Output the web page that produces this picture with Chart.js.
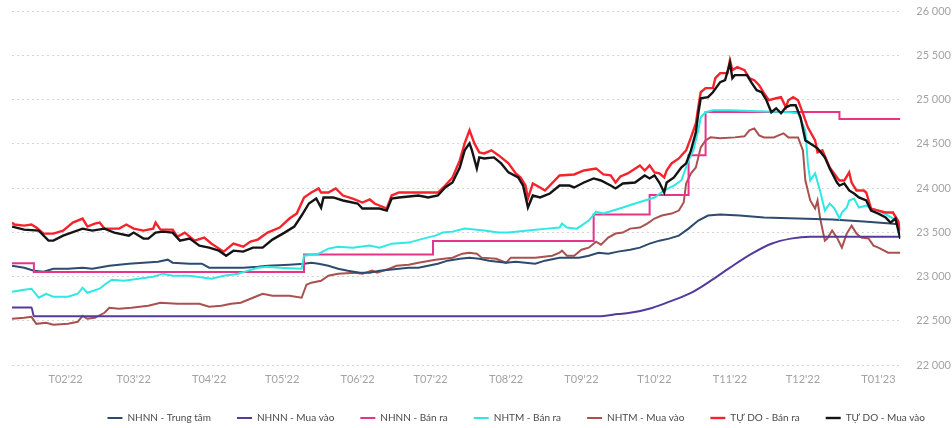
<!DOCTYPE html>
<html>
<head>
<meta charset="utf-8">
<script src="https://cdn.jsdelivr.net/npm/chart.js@4.4.1/dist/chart.umd.min.js"></script>
<style>
  html, body { margin: 0; padding: 0; background: #fff; }
  #chart { display: block; }
</style>
</head>
<body>
<canvas id="chart" width="952" height="428"></canvas>
<script>
// Trục ngang: ngày tính từ 01/01/2022
const monthTicks = [31, 59, 90, 120, 151, 181, 212, 243, 273, 304, 334, 365];
const monthLabels = ["T02'22", "T03'22", "T04'22", "T05'22", "T06'22", "T07'22", "T08'22", "T09'22", "T10'22", "T11'22", "T12'22", "T01'23"];

const seriesNames = ['NHNN - Trung tâm', 'NHNN - Mua vào', 'NHNN - Bán ra', 'NHTM - Bán ra', 'NHTM - Mua vào', 'TỰ DO - Bán ra', 'TỰ DO - Mua vào'];

// [ngày, VND/USD]
const nhnnTrungTam = [
  [9, 23122], [14, 23099], [18, 23066], [22, 23054], [26, 23088], [32, 23088], [38, 23099], [42, 23088],
  [49, 23122], [57, 23145], [63, 23156], [69, 23167], [73, 23190], [75, 23156], [82, 23145], [87, 23145],
  [90, 23099], [98, 23099], [104, 23099], [110, 23111], [114, 23122], [123, 23134], [129, 23145], [132, 23156],
  [135, 23145], [139, 23122], [143, 23088], [147, 23066], [152, 23043], [156, 23043], [160, 23066], [164, 23077],
  [168, 23088], [172, 23099], [176, 23099], [180, 23122], [184, 23145], [188, 23179], [193, 23201], [197, 23213],
  [201, 23201], [205, 23179], [212, 23156], [216, 23167], [220, 23156], [224, 23145], [228, 23179], [234, 23213],
  [242, 23213], [246, 23235], [250, 23269], [254, 23258], [258, 23281], [263, 23303], [267, 23326], [271, 23371],
  [275, 23405], [279, 23428], [283, 23462], [287, 23541], [291, 23632], [295, 23689], [300, 23700], [308, 23689],
  [318, 23666], [332, 23655], [346, 23643], [359, 23621], [370, 23598], [374, 23587]
];

const nhnnMuaVao = [
  [9, 22650], [17, 22650], [18, 22550], [250, 22550], [258, 22575], [263, 22590], [272, 22645], [280, 22725],
  [288, 22815], [296, 22950], [304, 23100], [313, 23258], [321, 23370], [329, 23428], [337, 23450], [374, 23450]
];

const nhnnBanRa = [
  [9, 23150], [18, 23050], [129, 23250], [182, 23400], [248, 23700], [271, 23920], [287, 24370], [294, 24860],
  [349, 24780], [374, 24780]
];

const nhtmBanRa = [
  [9, 22828], [14, 22850], [17, 22862], [20, 22760], [23, 22805], [26, 22771], [32, 22771], [36, 22805],
  [38, 22873], [40, 22816], [45, 22862], [47, 22907], [50, 22964], [55, 22952], [61, 22975], [67, 22998],
  [71, 23032], [75, 23009], [82, 23009], [88, 22986], [91, 22975], [96, 23009], [102, 23032], [106, 23066],
  [110, 23099], [114, 23111], [119, 23099], [128, 23088], [129, 23235], [135, 23258], [139, 23315], [143, 23337],
  [149, 23326], [156, 23349], [160, 23326], [165, 23371], [172, 23383], [178, 23428], [183, 23462], [186, 23496],
  [190, 23507], [195, 23541], [203, 23519], [209, 23496], [213, 23496], [221, 23519], [229, 23541], [234, 23553],
  [235, 23598], [237, 23553], [241, 23541], [243, 23575], [246, 23632], [248, 23700], [249, 23734], [252, 23711],
  [256, 23745], [260, 23779], [265, 23825], [269, 23859], [273, 23893], [277, 23972], [281, 24028], [284, 24085],
  [286, 24232], [287, 24312], [289, 24425], [291, 24652], [292, 24799], [294, 24856], [297, 24878], [304, 24878],
  [316, 24867], [328, 24856], [332, 24844], [335, 24652], [336, 24278], [337, 24085], [339, 24165], [341, 23972],
  [343, 23745], [345, 23825], [347, 23768], [349, 23655], [350, 23723], [352, 23779], [353, 23859], [355, 23881],
  [357, 23779], [360, 23802], [362, 23768], [365, 23745], [369, 23689], [374, 23609]
];

const nhtmMuaVao = [
  [9, 22522], [14, 22533], [17, 22544], [19, 22465], [23, 22477], [26, 22454], [32, 22465], [36, 22488],
  [38, 22556], [40, 22522], [43, 22533], [47, 22590], [49, 22646], [53, 22635], [58, 22646], [65, 22669],
  [70, 22703], [77, 22692], [86, 22692], [90, 22658], [95, 22669], [99, 22692], [103, 22703], [108, 22760],
  [112, 22805], [116, 22782], [123, 22782], [128, 22760], [130, 22907], [132, 22930], [136, 22952], [139, 23009],
  [143, 23032], [150, 23043], [153, 23032], [157, 23066], [159, 23043], [164, 23088], [167, 23122], [172, 23134],
  [176, 23156], [183, 23190], [190, 23213], [194, 23258], [197, 23269], [200, 23258], [202, 23213], [208, 23201],
  [212, 23156], [214, 23213], [224, 23213], [231, 23235], [234, 23269], [235, 23292], [237, 23235], [240, 23235],
  [243, 23303], [246, 23326], [249, 23394], [251, 23360], [254, 23439], [257, 23485], [260, 23496], [263, 23541],
  [267, 23553], [270, 23598], [273, 23655], [276, 23689], [280, 23711], [283, 23745], [285, 23836], [286, 24051],
  [288, 24165], [290, 24232], [291, 24346], [292, 24459], [294, 24538], [296, 24572], [300, 24561], [306, 24572],
  [310, 24584], [312, 24652], [314, 24674], [316, 24595], [318, 24572], [322, 24572], [324, 24595], [326, 24618],
  [328, 24572], [332, 24572], [334, 24425], [335, 24085], [337, 23859], [339, 23768], [340, 23859], [341, 23666],
  [343, 23405], [344, 23428], [346, 23519], [348, 23439], [350, 23326], [352, 23485], [354, 23575], [356, 23485],
  [358, 23439], [361, 23428], [363, 23349], [365, 23326], [369, 23269], [374, 23269]
];

const tdBanRa = [
  [9, 23609], [10, 23587], [14, 23575], [17, 23587], [19, 23553], [22, 23485], [26, 23485], [30, 23519],
  [34, 23609], [38, 23655], [40, 23564], [43, 23598], [45, 23609], [47, 23541], [53, 23541], [56, 23587],
  [59, 23541], [63, 23519], [67, 23541], [68, 23609], [70, 23530], [75, 23530], [77, 23451], [80, 23496],
  [84, 23405], [88, 23439], [91, 23371], [96, 23281], [100, 23371], [104, 23337], [107, 23394], [110, 23417],
  [114, 23496], [119, 23553], [123, 23655], [126, 23711], [129, 23893], [132, 23949], [135, 23995], [136, 23949],
  [139, 23949], [142, 23995], [145, 23915], [149, 23881], [153, 23836], [156, 23870], [158, 23825], [163, 23768],
  [165, 23915], [168, 23949], [176, 23949], [184, 23949], [187, 24028], [190, 24119], [193, 24312], [195, 24504],
  [197, 24652], [199, 24504], [201, 24402], [203, 24391], [206, 24425], [209, 24368], [213, 24278], [216, 24165],
  [218, 24119], [220, 24028], [221, 23881], [223, 24051], [226, 24006], [228, 23972], [234, 24142], [240, 24153],
  [244, 24198], [249, 24221], [252, 24153], [255, 24142], [257, 24062], [259, 24130], [262, 24165], [267, 24255],
  [269, 24198], [271, 24255], [273, 24176], [275, 24165], [277, 24119], [278, 24198], [280, 24278], [283, 24334],
  [286, 24425], [288, 24572], [290, 24731], [291, 24912], [292, 25082], [294, 25128], [297, 25128], [298, 25241],
  [300, 25298], [303, 25298], [304, 25445], [305, 25332], [307, 25366], [310, 25332], [312, 25241], [314, 25218],
  [316, 25162], [318, 25071], [320, 24992], [323, 25014], [325, 25026], [327, 24912], [328, 24992], [330, 25026],
  [332, 24992], [334, 24844], [336, 24686], [339, 24538], [340, 24402], [342, 24425], [345, 24232], [348, 24119],
  [349, 24085], [351, 24085], [353, 24176], [354, 24062], [356, 23972], [359, 23972], [360, 23949], [362, 23768],
  [365, 23745], [368, 23723], [371, 23723], [373, 23632], [374, 23519]
];

const tdMuaVao = [
  [9, 23564], [14, 23530], [20, 23519], [24, 23405], [26, 23405], [30, 23462], [38, 23541], [42, 23519],
  [47, 23541], [51, 23496], [57, 23462], [59, 23496], [63, 23428], [65, 23428], [68, 23496], [71, 23507],
  [75, 23496], [78, 23405], [82, 23428], [86, 23349], [90, 23326], [94, 23292], [97, 23235], [100, 23292],
  [104, 23281], [108, 23326], [112, 23326], [116, 23417], [121, 23496], [125, 23564], [128, 23689], [131, 23825],
  [134, 23881], [136, 23779], [137, 23893], [141, 23893], [145, 23859], [151, 23825], [153, 23768], [160, 23768],
  [163, 23745], [165, 23881], [168, 23893], [176, 23915], [180, 23893], [184, 23915], [187, 24006], [190, 24062],
  [193, 24232], [195, 24425], [197, 24504], [198, 24425], [200, 24221], [201, 24346], [203, 24334], [207, 24346],
  [210, 24278], [213, 24176], [217, 24119], [219, 24028], [221, 23779], [223, 23915], [226, 23893], [230, 23938],
  [234, 24028], [238, 24028], [240, 24006], [244, 24062], [248, 24108], [251, 24085], [255, 24028], [257, 23995],
  [260, 24051], [265, 24062], [269, 24142], [271, 24108], [273, 24142], [275, 24062], [277, 23949], [278, 24062],
  [281, 24119], [284, 24232], [286, 24278], [288, 24425], [290, 24629], [291, 24844], [292, 25014], [295, 25026],
  [297, 25082], [300, 25196], [302, 25218], [304, 25411], [305, 25241], [306, 25275], [311, 25275], [313, 25184],
  [315, 25105], [317, 25082], [319, 24992], [321, 24856], [323, 24901], [325, 24844], [327, 24912], [329, 24935],
  [331, 24935], [333, 24799], [335, 24538], [337, 24504], [340, 24448], [343, 24346], [345, 24221], [348, 24062],
  [349, 24028], [351, 24051], [353, 23972], [355, 23938], [357, 23893], [360, 23859], [362, 23745], [365, 23711],
  [368, 23666], [370, 23609], [372, 23655], [374, 23428]
];

const seriesData = [nhnnTrungTam, nhnnMuaVao, nhnnBanRa, nhtmBanRa, nhtmMuaVao, tdBanRa, tdMuaVao];
const seriesColors = ['#2d4b6e', '#553a9c', '#e8338b', '#2ee8e6', '#a9514f', '#f5232b', '#141414'];
const seriesOrder = [4, 5, 3, 2, 6, 1, 0];

function fmtThousands(v) {
  return String(v).replace(/\B(?=(\d{3})+(?!\d))/g, ' ');
}

const datasets = seriesNames.map((name, i) => ({
  label: name,
  data: seriesData[i].map(([x, y]) => ({ x: x, y: y })),
  borderColor: seriesColors[i],
  backgroundColor: seriesColors[i],
  borderWidth: i >= 5 ? 2.4 : 2,
  pointRadius: 0,
  tension: 0,
  stepped: i === 2,
  cubicInterpolationMode: i === 1 ? 'monotone' : 'default',
  order: seriesOrder[i]
}));

new Chart(document.getElementById('chart').getContext('2d'), {
  type: 'line',
  data: { datasets: datasets },
  options: {
    responsive: false,
    animation: false,
    events: [],
    layout: { padding: { left: 12, right: 1, top: 11, bottom: -5 } },
    scales: {
      x: {
        type: 'linear',
        min: 9,
        max: 374,
        afterBuildTicks: (axis) => { axis.ticks = monthTicks.map(v => ({ value: v })); },
        afterFit: (axis) => { axis.height = 22; },
        grid: { display: false, drawTicks: false },
        border: { display: false },
        ticks: {
          autoSkip: false,
          maxRotation: 0,
          padding: 8,
          color: '#a3a3a3',
          font: { family: 'Lato', size: 11 },
          callback: (v) => { const k = monthTicks.indexOf(v); return k >= 0 ? monthLabels[k] : ''; }
        }
      },
      y: {
        position: 'right',
        min: 22000,
        max: 26000,
        grid: { color: '#d4d4d4', lineWidth: 1, drawTicks: true, tickLength: 16, tickColor: 'rgba(0,0,0,0)' },
        border: { display: false, dash: [2, 3] },
        ticks: {
          stepSize: 500,
          padding: 0,
          color: '#a3a3a3',
          font: { family: 'Lato', size: 11 },
          callback: (v) => fmtThousands(v)
        }
      }
    },
    plugins: {
      tooltip: { enabled: false },
      legend: {
        position: 'bottom',
        align: 'end',
        labels: {
          usePointStyle: true,
          pointStyle: 'line',
          pointStyleWidth: 15,
          padding: 26,
          color: '#4a4a4a',
          font: { family: 'Lato', size: 10 },
          sort: (a, b) => a.datasetIndex - b.datasetIndex
        }
      }
    }
  }
});
</script>
</body>
</html>
